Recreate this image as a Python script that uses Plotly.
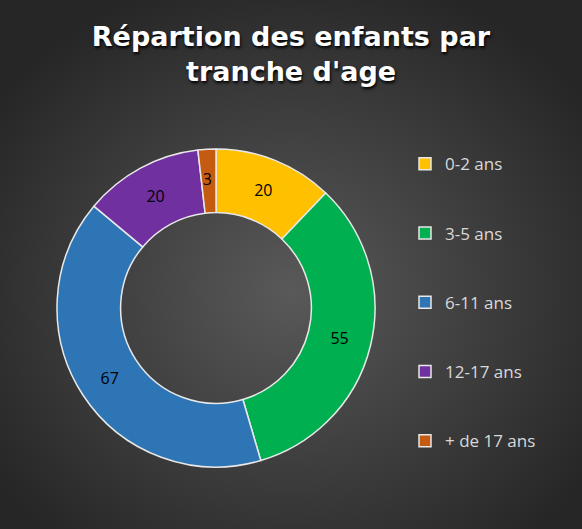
import base64
import plotly.graph_objects as go

# Répartition des enfants par tranche d'age
categories = ["0-2 ans", "3-5 ans", "6-11 ans", "12-17 ans", "+ de 17 ans"]
values = [20, 55, 67, 20, 3]
colors = ["#FFC000", "#00B050", "#2E75B6", "#7030A0", "#C55A11"]

W, H = 582, 529

# radial gradient background (as inline svg image)
bg_svg = f"""<svg xmlns='http://www.w3.org/2000/svg' width='{W}' height='{H}'>
<defs><radialGradient id='g' cx='0.5' cy='0.55' r='0.62'>
<stop offset='0' stop-color='#595959'/>
<stop offset='1' stop-color='#262626'/>
</radialGradient></defs>
<rect width='{W}' height='{H}' fill='url(#g)'/></svg>"""
bg_src = "data:image/svg+xml;base64," + base64.b64encode(bg_svg.encode()).decode()

# pad legend entries so they are spread out like the original
legend_labels = [" <br>" + c + "<br> " for c in categories]

# tiny slices get blank lines on top so the number sits mid-ring
total = sum(values)
slice_text = [(" <br> <br>" if v / total < 0.05 else "") + str(v) for v in values]

fig = go.Figure(go.Pie(
    labels=legend_labels,
    values=values,
    text=slice_text,
    hole=0.6,
    sort=False,
    direction="clockwise",
    rotation=0,
    marker=dict(colors=colors, line=dict(color="#E8E8E8", width=1.5)),
    textinfo="text",
    textposition="inside",
    insidetextorientation="horizontal",
    textfont=dict(family="Open Sans", size=16, color="black"),
    domain=dict(x=[57 / W, 375 / W], y=[1 - 467 / H, 1 - 149 / H]),
    hoverinfo="label+value",
))

fig.update_layout(
    width=W, height=H,
    margin=dict(l=0, r=0, t=0, b=0),
    paper_bgcolor="#333333",
    plot_bgcolor="#333333",
    title=dict(
        text="Répartion des enfants par<br>tranche d'age",
        x=0.5, xanchor="center",
        y=1 - 46 / H, yanchor="top",
        font=dict(family="DejaVu Sans", size=27, color="white", weight="bold",
                  shadow="1px 2px 3px black"),
    ),
    legend=dict(
        x=405 / W, xanchor="left",
        y=1 - 124 / H, yanchor="top",
        font=dict(family="Open Sans", size=17, color="#D9D9D9"),
        bgcolor="rgba(0,0,0,0)",
        valign="middle",
    ),
    uniformtext=dict(minsize=16, mode="show"),
    images=[dict(source=bg_src, xref="paper", yref="paper", x=0, y=1,
                 sizex=1, sizey=1, sizing="stretch", layer="below",
                 xanchor="left", yanchor="top")],
)

fig.write_html("out.html", config={"displayModeBar": False},
               post_script="document.body.style.margin='0';")
